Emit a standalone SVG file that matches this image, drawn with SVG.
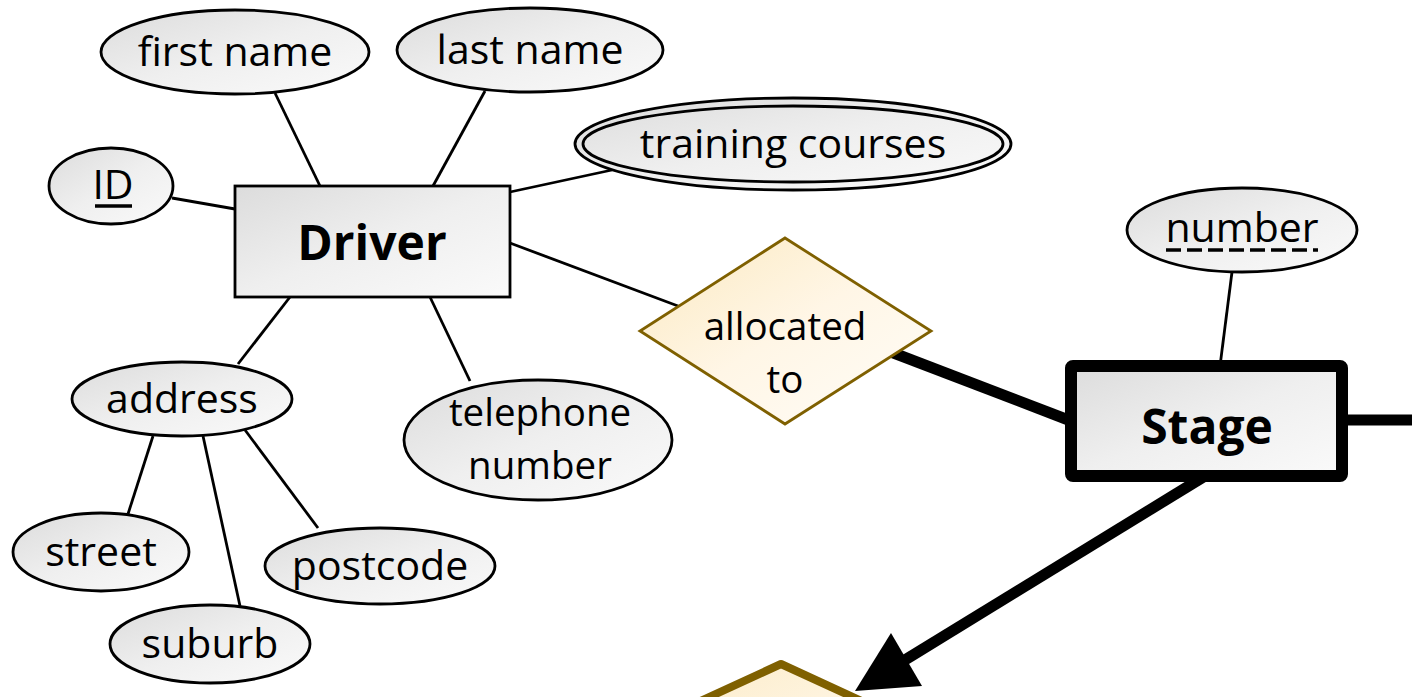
<svg xmlns="http://www.w3.org/2000/svg" width="1412" height="697" viewBox="0 0 1412 697">
<defs>
<linearGradient id="gGray" x1="0" y1="0" x2="1" y2="1">
<stop offset="0" stop-color="#dcdcdc"/>
<stop offset="0.5" stop-color="#efefef"/>
<stop offset="1" stop-color="#fafafa"/>
</linearGradient>
<linearGradient id="gCream" x1="0" y1="0" x2="1" y2="1">
<stop offset="0" stop-color="#fbe9c0"/>
<stop offset="0.5" stop-color="#fff6e6"/>
<stop offset="1" stop-color="#fffdf8"/>
</linearGradient>
<style>
.attr{fill:url(#gGray);stroke:#000;stroke-width:2.8}
.ent{fill:url(#gGray);stroke:#000;stroke-width:2.8}
.went{fill:url(#gGray);stroke:#000;stroke-width:12;stroke-linejoin:round}
.rel{fill:url(#gCream);stroke:#7f6000;stroke-width:2.8}
.wrel{fill:url(#gCream);stroke:#7f6000;stroke-width:8;stroke-linejoin:round}
.t{font-family:"Open Sans","Noto Sans",sans-serif;font-size:41px;fill:#000;text-anchor:middle}
.t2{font-family:"Open Sans","Noto Sans",sans-serif;font-size:38.5px;fill:#000;text-anchor:middle}
.b{font-family:"Open Sans","Noto Sans",sans-serif;font-size:48px;font-weight:bold;fill:#000;text-anchor:middle}
.c{stroke:#000;stroke-width:2.8;fill:none}
.k{stroke:#000;stroke-width:11;fill:none}
</style>
</defs>
<rect width="1412" height="697" fill="#fff"/>
<g id="connectors">
<line class="c" x1="275" y1="93" x2="320" y2="186"/>
<line class="c" x1="485" y1="91" x2="433" y2="186"/>
<line class="c" x1="612" y1="170" x2="510" y2="192"/>
<line class="c" x1="172" y1="198" x2="235" y2="209"/>
<line class="c" x1="510" y1="243" x2="678" y2="306"/>
<line class="c" x1="290" y1="297" x2="238" y2="364"/>
<line class="c" x1="430" y1="297" x2="470" y2="381"/>
<line class="c" x1="153" y1="436" x2="128" y2="514"/>
<line class="c" x1="203" y1="436" x2="240" y2="606"/>
<line class="c" x1="245" y1="430" x2="318" y2="528"/>
<line class="c" x1="1232" y1="272" x2="1220" y2="366"/>
<line class="k" x1="870" y1="344" x2="1071" y2="421"/>
<line class="k" x1="1342" y1="420" x2="1412" y2="420"/>
<line class="k" x1="1205" y1="476" x2="900" y2="663"/>
<polygon points="855,691 891,633 922,686" fill="#000"/>
</g>
<g id="node-firstname">
<ellipse class="attr" cx="235" cy="52" rx="134" ry="42"/>
<text class="t" x="235" y="66">first name</text>
</g>
<g id="node-lastname">
<ellipse class="attr" cx="530" cy="50" rx="133" ry="42"/>
<text class="t" x="530" y="64">last name</text>
</g>
<g id="node-id">
<ellipse class="attr" cx="111" cy="186" rx="62" ry="38"/>
<text class="t" x="113" y="199">ID</text>
<line x1="95" y1="206" x2="132" y2="206" stroke="#000" stroke-width="3.5"/>
</g>
<g id="node-training">
<ellipse class="attr" cx="793" cy="144" rx="218" ry="46"/>
<ellipse cx="793" cy="144" rx="210" ry="38" fill="none" stroke="#000" stroke-width="2.8"/>
<text class="t" x="793" y="158">training courses</text>
</g>
<g id="node-driver">
<rect class="ent" x="235" y="186" width="275" height="111"/>
<text class="b" x="372" y="260">Driver</text>
</g>
<g id="node-allocated">
<polygon class="rel" points="785,238 931,331 785,424 640,331"/>
<text class="t2" x="785" y="340">allocated</text>
<text class="t2" x="785" y="393">to</text>
</g>
<g id="node-number">
<ellipse class="attr" cx="1242" cy="230" rx="115" ry="42"/>
<text class="t" x="1242" y="242">number</text>
<line x1="1166" y1="250" x2="1318" y2="250" stroke="#000" stroke-width="3.5" stroke-dasharray="15,6"/>
</g>
<g id="node-stage">
<rect class="went" x="1071" y="366" width="271" height="110" rx="2"/>
<text class="b" x="1207" y="444">Stage</text>
</g>
<g id="node-address">
<ellipse class="attr" cx="182" cy="399" rx="110" ry="37"/>
<text class="t" x="182" y="413">address</text>
</g>
<g id="node-telephone">
<ellipse class="attr" cx="538" cy="440" rx="134" ry="60"/>
<text class="t2" x="540" y="426">telephone</text>
<text class="t2" x="540" y="479">number</text>
</g>
<g id="node-street">
<ellipse class="attr" cx="101" cy="552" rx="88" ry="39"/>
<text class="t" x="101" y="566">street</text>
</g>
<g id="node-postcode">
<ellipse class="attr" cx="380" cy="566" rx="115" ry="38"/>
<text class="t" x="380" y="580">postcode</text>
</g>
<g id="node-suburb">
<ellipse class="attr" cx="210" cy="644" rx="100" ry="39"/>
<text class="t" x="210" y="658">suburb</text>
</g>
<g id="node-bottomrel">
<polygon class="wrel" points="781,664 981,756 781,848 581,756"/>
</g>
</svg>
